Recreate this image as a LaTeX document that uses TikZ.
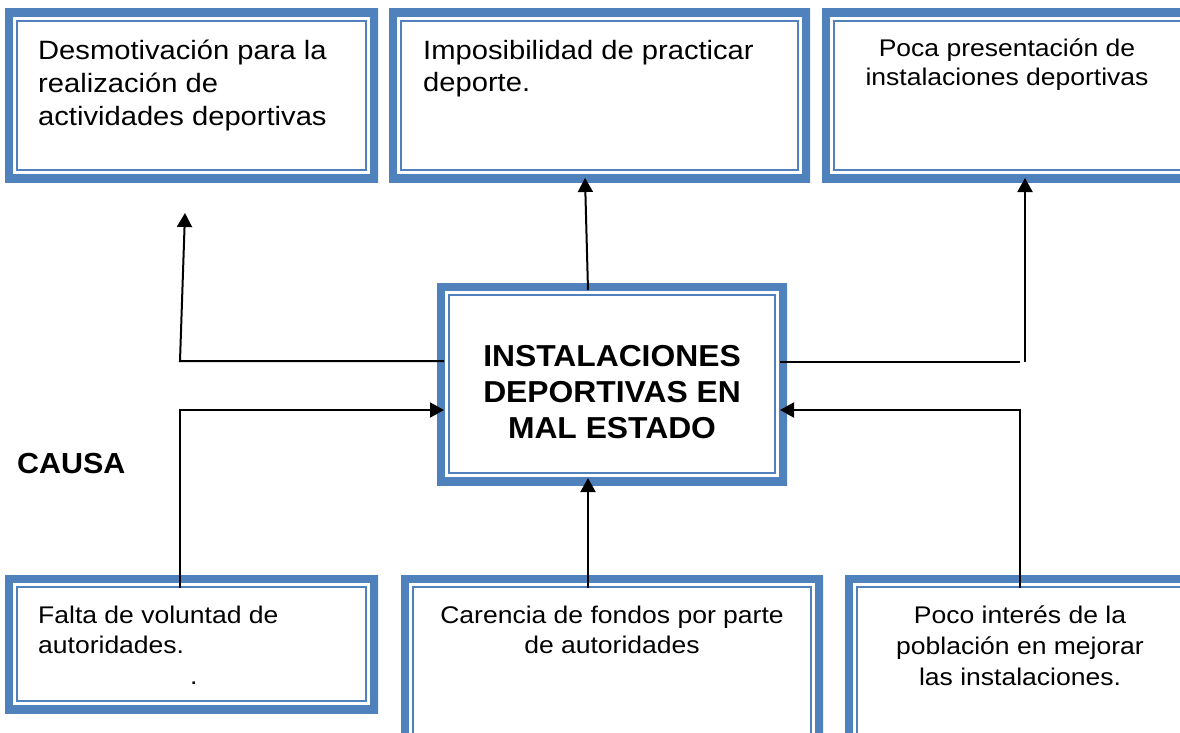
\documentclass[tikz,border=0pt]{standalone}
\usepackage{fontspec}
\setmainfont{Liberation Sans}[FakeStretch=1.1]
\newfontfamily\boldstretch{Liberation Sans}[FakeStretch=1.05]
\usetikzlibrary{arrows.meta,calc}
\definecolor{boxblue}{RGB}{79,129,189}
\tikzset{
  dbox/.style={rectangle, draw=none, fill=white, inner sep=0pt, anchor=center,
    path picture={
      \draw[line width=16pt, boxblue] (path picture bounding box.south west) rectangle (path picture bounding box.north east);
      \draw[line width=2pt, boxblue] ($(path picture bounding box.south west)+(12pt,12pt)$) rectangle ($(path picture bounding box.north east)+(-12pt,-12pt)$);
    }},
  tl/.style={inner sep=0pt, anchor=base west},
  tc/.style={inner sep=0pt, anchor=base},
  conn/.style={line width=2pt, black},
  arr/.style={conn, -{Triangle[length=14pt,width=15pt]}},
}
\begin{document}
\begin{tikzpicture}[x=1pt,y=-1pt]
\useasboundingbox (0,0) rectangle (1180,733);
\clip (0,0) rectangle (1180,733);
\fill[white] (0,0) rectangle (1180,733);

% boxes
\node[dbox, minimum width=373pt, minimum height=173pt, outer sep=-4pt] (e1) at (191.5,95.5) {};
\node[dbox, minimum width=421pt, minimum height=173pt, outer sep=-4pt] (e2) at (599.5,95.5) {};
\node[dbox, minimum width=420pt, minimum height=173pt, outer sep=-4pt] (e3) at (1032,95.5) {};
\node[dbox, minimum width=350pt, minimum height=202pt, outer sep=-7pt] (c) at (612,384) {};
\node[dbox, minimum width=373pt, minimum height=138pt, outer sep=-13pt] (k1) at (191.5,644) {};
\node[dbox, minimum width=422pt, minimum height=200pt, outer sep=-13pt] (k2) at (612,675) {};
\node[dbox, minimum width=420pt, minimum height=200pt, outer sep=-13pt] (k3) at (1055,675) {};

% texts
\node[tl] (e1t) at (38,60) {\parbox[t]{340pt}{\raggedright\fontsize{26.5pt}{33pt}\selectfont Desmotivación para la\\realización de\\actividades deportivas}};
\node[tl] (e2t) at (423,60) {\parbox[t]{375pt}{\raggedright\fontsize{26.5pt}{32pt}\selectfont Imposibilidad de practicar\\deporte.}};
\node[tc] (e3t) at (1007,57) {\parbox[t]{340pt}{\centering\fontsize{24.1pt}{29pt}\selectfont Poca presentación de\\instalaciones deportivas}};
\node[tc] (ct) at (612,366) {\parbox[t]{330pt}{\centering\boldstretch\bfseries\fontsize{30.3pt}{36pt}\selectfont INSTALACIONES\\DEPORTIVAS EN\\MAL ESTADO}};
\node[tl] (causa) at (17,473) {\boldstretch\bfseries\fontsize{29pt}{35pt}\selectfont CAUSA};
\node[tl] (k1t) at (38,623) {\parbox[t]{330pt}{\raggedright\fontsize{24.1pt}{30.5pt}\selectfont Falta de voluntad de\\autoridades.\\\hspace*{152pt}.}};
\node[tc] (k2t) at (612,623) {\parbox[t]{390pt}{\centering\fontsize{24.1pt}{30pt}\selectfont Carencia de fondos por parte\\de autoridades}};
\node[tc] (k3t) at (1020,623) {\parbox[t]{320pt}{\centering\fontsize{24.1pt}{31pt}\selectfont Poco interés de la\\población en mejorar\\las instalaciones.}};

% helper coordinates
\coordinate (b1) at (180,361);
\coordinate (t1) at (185,213);
\coordinate (x2s) at (588,0);
\coordinate (x2e) at (585,0);
\coordinate (b3) at (1020,362);
\coordinate (b3v) at (1025,362);
\coordinate (b4) at (180,410);
\coordinate (x5) at (588,0);
\coordinate (b6) at (1020,410);

% connectors
\draw[arr] (c.west |- b1) -- (b1) -- (t1);
\draw[arr] (c.north -| x2s) -- (e2.south -| x2e);
\draw[conn] (c.east |- b3) -- (b3);
\draw[arr] (b3v) -- (e3.south -| b3v);
\draw[arr] (k1.north -| b4) -- (b4) -- (c.west |- b4);
\draw[arr] (k2.north -| x5) -- (c.south -| x5);
\draw[arr] (k3.north -| b6) -- (b6) -- (c.east |- b6);
\end{tikzpicture}
\end{document}
